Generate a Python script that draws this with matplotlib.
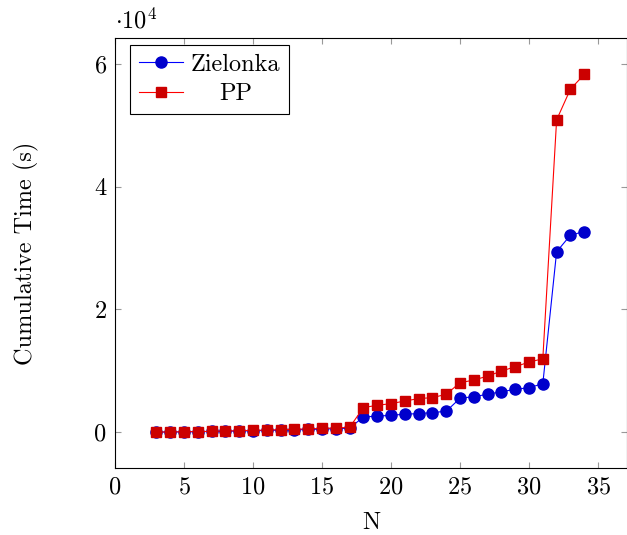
import matplotlib
matplotlib.use("Agg")
import matplotlib.pyplot as plt

plt.rcParams['font.family'] = 'serif'
plt.rcParams['font.serif'] = ['cmr10', 'DejaVu Serif']
plt.rcParams['mathtext.fontset'] = 'cm'
plt.rcParams['axes.formatter.use_mathtext'] = True

n = list(range(3, 35))
zielonka = [15, 30, 50, 80, 110, 150, 190, 230, 280, 330, 380, 440, 500, 570, 650,
            2490, 2600, 2760, 2920, 3030, 3190, 3410,
            5520, 5790, 6170, 6600, 6980, 7250, 7900,
            29400, 32100, 32700]
pp = [20, 40, 70, 100, 140, 190, 240, 290, 350, 410, 470, 540, 610, 690, 780,
      4010, 4380, 4650, 5080, 5470, 5630, 6170,
      8060, 8490, 9140, 9950, 10670, 11420, 11960,
      50900, 55900, 58300]

FS = 17.5
fig = plt.figure(figsize=(6.27, 5.35), dpi=100)
ax = fig.add_axes([115/627, 1-468/535, 1-115/627, (468-38)/535])

ax.plot(n, zielonka, color='blue', lw=0.8, marker='o', ms=8,
        mfc=(0, 0, 0.8), mec=(0, 0, 0.8), label='Zielonka')
ax.plot(n, pp, color='red', lw=0.8, marker='s', ms=7.5,
        mfc=(0.8, 0, 0), mec=(0.8, 0, 0), label='PP')

ax.set_xlim(0, 37.1)
ax.set_ylim(-5840, 64240)
ax.set_xticks([0, 5, 10, 15, 20, 25, 30, 35])
ax.set_yticks([0, 20000, 40000, 60000])
ax.set_yticklabels(['0', '2', '4', '6'])
ax.tick_params(direction='in', length=4, color='#999999', top=True, right=True,
               labelsize=FS, width=0.8, pad=6)
for s in ax.spines.values():
    s.set_linewidth(0.8)

ax.text(0.0, 1.01, r'$\cdot 10^4$', transform=ax.transAxes, fontsize=FS,
        ha='left', va='bottom')
ax.set_xlabel('N', fontsize=FS, labelpad=10)
ax.set_ylabel('Cumulative Time (s)', fontsize=FS, labelpad=40)

leg = ax.legend(loc='upper left', bbox_to_anchor=(15/512, 1-7/430), borderaxespad=0,
                fontsize=FS, frameon=True, fancybox=False,
                edgecolor='black', framealpha=1,
                handlelength=1.85, handletextpad=0.3, labelspacing=0.3, borderpad=0.35)
leg.get_frame().set_linewidth(0.8)

fig.canvas.draw()
r = fig.canvas.get_renderer()
texts = leg.get_texts()
widths = [t.get_window_extent(r).width for t in texts]
mw = max(widths)
for t, w in zip(texts, widths):
    t.set_x((mw - w) / 2)

fig.savefig('out.png', dpi=100)
